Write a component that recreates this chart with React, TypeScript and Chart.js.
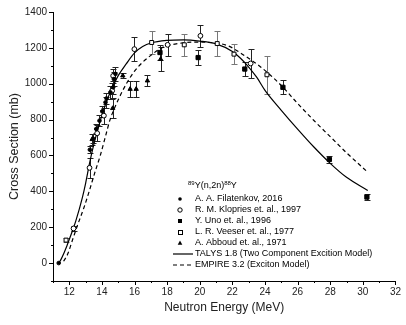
import React, { useEffect, useRef } from 'react';
import { Chart, registerables } from 'chart.js';

Chart.register(...registerables);

// ---------------- data ----------------
const xAxisMin = 11;
const xAxisMax = 32;
const yAxisMin = -100;
const yAxisMax = 1400;

const filatenkovE = [11.35, 13.26, 13.47, 13.65, 13.85, 14.02, 14.22, 14.28, 14.52, 14.69, 14.73, 14.83];
const filatenkovXS = [0, 632, 693, 748, 794, 846, 896, 918, 952, 980, 1026, 1055];
const filatenkovErr = [0, 20, 25, 25, 30, 30, 30, 30, 35, 35, 40, 40];

const kloprirsE = [12.26, 13.24, 13.71, 14.12, 14.63, 14.69, 15.99, 18.03, 20.04, 23.12];
const kloprirsXS = [193, 531, 724, 822, 961, 1044, 1193, 1217, 1267, 1113];
const kloprirsErr = [15, 55, 45, 45, 45, 40, 65, 60, 60, 80];

const unoE = [17.56, 19.9, 22.76, 25.1, 27.95, 30.25];
const unoXS = [1174, 1146, 1082, 980, 578, 368];
const unoErr = [40, 42, 40, 40, 18, 15];

const veeserE = [11.8, 17.05, 19.05, 21.07, 22.1, 24.12];
const veeserXS = [128, 1230, 1217, 1224, 1165, 1050];
const veeserErr = [10, 65, 60, 70, 55, 105];

const abboudE = [13.4, 14.66, 15.28, 15.73, 16.1, 16.79, 17.6];
const abboudXS = [690, 863, 1045, 970, 970, 1017, 1137];
const abboudErr = [30, 55, 15, 45, 45, 30, 67];

const talysE = [11.35, 11.5, 11.7, 11.85, 12.0, 12.2, 12.4, 12.8, 13.0, 13.25, 13.5, 13.75, 14.0, 14.3, 14.6, 15.0, 15.5, 16.0, 16.5, 17.0, 18.0, 19.0, 20.0, 21.0, 22.0, 22.5, 23.0, 23.5, 24.0, 25.0, 26.0, 27.0, 28.0, 29.0, 30.3];
const talysXS = [0, 22, 62, 95, 132, 182, 235, 365, 445, 560, 660, 745, 825, 905, 970, 1045, 1112, 1172, 1207, 1227, 1242, 1245, 1238, 1222, 1180, 1142, 1093, 1035, 963, 852, 747, 647, 556, 478, 405];

const empireE = [11.65, 11.9, 12.2, 12.5, 12.9, 13.22, 13.55, 13.9, 14.2, 14.5, 15.0, 15.5, 16.0, 16.5, 17.0, 17.66, 18.68, 19.7, 20.72, 21.74, 22.76, 23.77, 25.0, 26.0, 27.0, 28.0, 29.0, 30.2];
const empireXS = [10, 50, 130, 210, 310, 400, 500, 600, 700, 800, 910, 1000, 1070, 1120, 1158, 1200, 1224, 1232, 1230, 1211, 1156, 1091, 990, 890, 795, 705, 615, 515];

const legendTitleParts = ['89', 'Y(n,2n)', '88', 'Y'];
const legendLabels = [
  'A. A. Filatenkov, 2016',
  'R. M. Klopries et. al., 1997',
  'Y. Uno et. al., 1996',
  'L. R. Veeser et. al., 1977',
  'A. Abboud et. al., 1971',
  'TALYS 1.8 (Two Component Excition Model)',
  'EMPIRE 3.2 (Exciton Model)',
];
const xTitle = 'Neutron Energy (MeV)';
const yTitle = 'Cross Section (mb)';

// ---------------- helpers ----------------
const FONT = '"Liberation Sans", Arial, Helvetica, sans-serif';
const toPts = (xs: number[], ys: number[]) => xs.map((x, i) => ({ x, y: ys[i] }));

const errorBarPlugin = {
  id: 'errorBars',
  beforeDatasetsDraw(chart: any) {
    const { ctx, scales } = chart;
    const xs = scales.x;
    const ys = scales.y;
    ctx.save();
    chart.data.datasets.forEach((ds: any) => {
      const errs: number[] | undefined = ds.errors;
      if (!errs) return;
      ctx.strokeStyle = ds.errorColor || '#333';
      ctx.lineWidth = 1;
      ds.data.forEach((pt: any, j: number) => {
        const e = errs[j];
        if (!e) return;
        const px = Math.round(xs.getPixelForValue(pt.x)) + 0.5;
        const y1 = Math.round(ys.getPixelForValue(pt.y + e)) + 0.5;
        const y2 = Math.round(ys.getPixelForValue(pt.y - e)) + 0.5;
        ctx.beginPath();
        ctx.moveTo(px, y1);
        ctx.lineTo(px, y2);
        ctx.moveTo(px - 3, y1);
        ctx.lineTo(px + 3, y1);
        ctx.moveTo(px - 3, y2);
        ctx.lineTo(px + 3, y2);
        ctx.stroke();
      });
    });
    ctx.restore();
  },
};

const axisTickPlugin = {
  id: 'axisTicks',
  afterDraw(chart: any) {
    const { ctx, chartArea: ca, scales } = chart;
    ctx.save();
    ctx.strokeStyle = '#000';
    ctx.lineWidth = 1;
    ctx.beginPath();
    for (let v = xAxisMin; v <= xAxisMax; v++) {
      const px = Math.round(scales.x.getPixelForValue(v)) + 0.5;
      const len = v % 2 === 0 ? 4 : 2;
      ctx.moveTo(px, ca.bottom);
      ctx.lineTo(px, ca.bottom + len);
    }
    for (let v = yAxisMin; v <= yAxisMax; v += 100) {
      const py = Math.round(scales.y.getPixelForValue(v)) + 0.5;
      const len = v % 200 === 0 ? 4 : 2;
      ctx.moveTo(ca.left - len, py);
      ctx.lineTo(ca.left, py);
    }
    ctx.stroke();
    ctx.restore();
  },
};

const legendPlugin = {
  id: 'insideLegend',
  afterDraw(chart: any) {
    const { ctx } = chart;
    const markerX = 180;
    const textX = 195;
    const titleY = 186;
    const rowY0 = 199;
    const rowH = 11;
    ctx.save();
    ctx.fillStyle = '#000';
    ctx.strokeStyle = '#000';
    ctx.textBaseline = 'middle';
    ctx.textAlign = 'left';
    // title with superscripts
    let tx = 188;
    legendTitleParts.forEach((part, i) => {
      const sup = i % 2 === 0;
      ctx.font = (sup ? '6px ' : '9px ') + FONT;
      ctx.fillText(part, tx, sup ? titleY - 3 : titleY);
      tx += ctx.measureText(part).width;
    });
    ctx.font = '9px ' + FONT;
    legendLabels.forEach((label, i) => {
      const y = rowY0 + i * rowH;
      ctx.fillText(label, textX, y);
      ctx.lineWidth = 1;
      ctx.setLineDash([]);
      ctx.beginPath();
      if (i === 0) {
        ctx.arc(markerX, y, 1.8, 0, Math.PI * 2);
        ctx.fill();
      } else if (i === 1) {
        ctx.arc(markerX, y, 2.2, 0, Math.PI * 2);
        ctx.stroke();
      } else if (i === 2) {
        ctx.fillRect(markerX - 2, y - 2, 4, 4);
      } else if (i === 3) {
        ctx.strokeRect(markerX - 1.5, y - 1.5, 4, 4);
      } else if (i === 4) {
        ctx.moveTo(markerX, y - 2.5);
        ctx.lineTo(markerX + 2.3, y + 1.8);
        ctx.lineTo(markerX - 2.3, y + 1.8);
        ctx.closePath();
        ctx.fill();
      } else {
        if (i === 6) ctx.setLineDash([4, 3]);
        ctx.lineWidth = 1.2;
        ctx.moveTo(173, y);
        ctx.lineTo(193, y);
        ctx.stroke();
      }
    });
    ctx.restore();
  },
};

export default function App() {
  const canvasRef = useRef<HTMLCanvasElement | null>(null);

  useEffect(() => {
    if (!canvasRef.current) return;
    const pointBase = { showLine: false, borderColor: '#000', borderWidth: 1 };
    const chart = new Chart(canvasRef.current, {
      type: 'scatter',
      data: {
        datasets: [
          {
            ...pointBase,
            label: legendLabels[0],
            data: toPts(filatenkovE, filatenkovXS),
            errors: filatenkovErr,
            errorColor: '#222',
            pointStyle: 'circle',
            pointRadius: 1.8,
            backgroundColor: '#000',
            order: 1,
          },
          {
            ...pointBase,
            label: legendLabels[1],
            data: toPts(kloprirsE, kloprirsXS),
            errors: kloprirsErr,
            errorColor: '#222',
            pointStyle: 'circle',
            pointRadius: 2.4,
            backgroundColor: '#fff',
            order: 1,
          },
          {
            ...pointBase,
            label: legendLabels[2],
            data: toPts(unoE, unoXS),
            errors: unoErr,
            errorColor: '#222',
            pointStyle: 'rect',
            pointRadius: 3,
            backgroundColor: '#000',
            order: 1,
          },
          {
            ...pointBase,
            label: legendLabels[3],
            data: toPts(veeserE, veeserXS),
            errors: veeserErr,
            errorColor: '#777',
            pointStyle: 'rect',
            pointRadius: 2.8,
            backgroundColor: '#fff',
            order: 1,
          },
          {
            ...pointBase,
            label: legendLabels[4],
            data: toPts(abboudE, abboudXS),
            errors: abboudErr,
            errorColor: '#222',
            pointStyle: 'triangle',
            pointRadius: 2.5,
            backgroundColor: '#000',
            order: 1,
          },
          {
            label: legendLabels[5],
            data: toPts(talysE, talysXS),
            showLine: true,
            pointRadius: 0,
            borderColor: '#000',
            borderWidth: 1.2,
            cubicInterpolationMode: 'monotone',
            fill: false,
            order: 2,
          },
          {
            label: legendLabels[6],
            data: toPts(empireE, empireXS),
            showLine: true,
            pointRadius: 0,
            borderColor: '#000',
            borderWidth: 1.2,
            borderDash: [4, 3],
            cubicInterpolationMode: 'monotone',
            fill: false,
            order: 2,
          },
        ] as any,
      },
      options: {
        animation: false,
        responsive: false,
        maintainAspectRatio: false,
        devicePixelRatio: 1,
        layout: { padding: { left: 0, right: 8, top: 10, bottom: 0 } },
        plugins: {
          legend: { display: false },
          tooltip: { enabled: false },
        },
        scales: {
          x: {
            type: 'linear',
            min: xAxisMin,
            max: xAxisMax,
            afterFit: (s: any) => {
              s.height = 44;
            },
            grid: { display: true, drawOnChartArea: false, drawTicks: false },
            border: { display: true, color: '#000', width: 1 },
            ticks: {
              stepSize: 1,
              autoSkip: false,
              maxRotation: 0,
              padding: 5,
              color: '#222',
              font: { family: FONT, size: 10 },
              callback: (v: any) => (Number(v) % 2 === 0 ? String(v) : ''),
            },
            title: {
              display: true,
              text: xTitle,
              color: '#222',
              font: { family: FONT, size: 12 },
              padding: { top: 0, bottom: 10 },
            },
          },
          y: {
            type: 'linear',
            min: yAxisMin,
            max: yAxisMax,
            afterFit: (s: any) => {
              s.width = 53;
            },
            grid: { display: true, drawOnChartArea: false, drawTicks: false },
            border: { display: true, color: '#000', width: 1 },
            ticks: {
              stepSize: 100,
              autoSkip: false,
              padding: 6,
              color: '#222',
              font: { family: FONT, size: 10 },
              callback: (v: any) => (Number(v) % 200 === 0 && Number(v) >= 0 ? String(v) : ''),
            },
            title: {
              display: true,
              text: yTitle,
              color: '#222',
              font: { family: FONT, size: 12.5 },
              padding: { top: 7, bottom: 0 },
            },
          },
        },
      } as any,
      plugins: [errorBarPlugin, axisTickPlugin, legendPlugin],
    });
    return () => chart.destroy();
  }, []);

  return (
    <div style={{ position: 'absolute', left: 0, top: 0, width: 406, height: 325, background: '#fff' }}>
      <canvas ref={canvasRef} width={406} height={325} style={{ width: 406, height: 325, display: 'block' }} />
    </div>
  );
}
